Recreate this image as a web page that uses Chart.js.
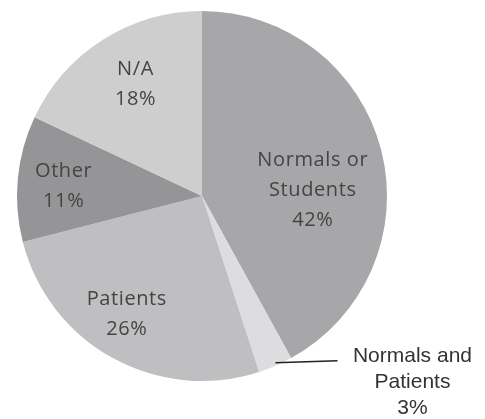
<!DOCTYPE html>
<html>
<head>
<meta charset="utf-8">
<script src="https://cdn.jsdelivr.net/npm/chart.js@4"></script>
<style>
  html, body { margin: 0; padding: 0; background: #fff; }
  #wrap { width: 485px; height: 419px; }
</style>
</head>
<body>
<div id="wrap"><canvas id="pie" width="485" height="419"></canvas></div>
<script>
// Study population breakdown
const categories = ['Normals or Students', 'Normals and Patients', 'Patients', 'Other', 'N/A'];
const labelLines = [['Normals or', 'Students'], ['Normals and', 'Patients'], ['Patients'], ['Other'], ['N/A']];
const shares = [42, 3, 26, 11, 18];
const sliceColors = ['#a7a7a9', '#dddddf', '#bfbfc1', '#959597', '#cececf'];

// per-slice label placement: radius factor and angle nudge (degrees)
const labelPlace = [
  { r: 0.6, da: 11 },
  { outside: true },
  { r: 0.75, da: 4 },
  { r: 0.75, da: -1 },
  { r: 0.71, da: 2 }
];

const sliceLabels = {
  id: 'sliceLabels',
  afterDatasetsDraw(chart) {
    const ctx = chart.ctx;
    const meta = chart.getDatasetMeta(0);
    const total = shares.reduce((a, b) => a + b, 0);
    meta.data.forEach((arc, i) => {
      const pct = Math.round(shares[i] / total * 100) + '%';
      const lines = labelLines[i].concat([pct]);
      const mid = (arc.startAngle + arc.endAngle) / 2;
      const place = labelPlace[i];
      ctx.save();
      ctx.textAlign = 'center';
      ctx.textBaseline = 'alphabetic';
      if (place.outside) {
        // leader line from the rim out to the side label
        const x0 = arc.x + Math.cos(mid) * arc.outerRadius;
        const y0 = arc.y + Math.sin(mid) * arc.outerRadius - 3;
        const x1 = x0 + 62, y1 = y0 - 2;
        ctx.strokeStyle = '#222';
        ctx.lineWidth = 1.5;
        ctx.beginPath();
        ctx.moveTo(x0, y0);
        ctx.lineTo(x1, y1);
        ctx.stroke();
        ctx.fillStyle = '#333';
        ctx.font = '21px "Liberation Sans", Arial, sans-serif';
        const cx = x1 + 75;
        lines.forEach((t, k) => ctx.fillText(t, cx, y1 + 1 + k * 26));
      } else {
        const a = mid + place.da * Math.PI / 180;
        const rr = arc.outerRadius * place.r;
        const cx = arc.x + Math.cos(a) * rr;
        const cy = arc.y + Math.sin(a) * rr;
        ctx.fillStyle = '#444';
        ctx.font = '20px "Open Sans", Lato, sans-serif';
        ctx.letterSpacing = '0.6px';
        const lh = 30;
        const top = cy - (lines.length - 1) * lh / 2 + 7;
        lines.forEach((t, k) => ctx.fillText(t, cx, top + k * lh));
      }
      ctx.restore();
    });
  }
};

new Chart(document.getElementById('pie'), {
  type: 'pie',
  data: {
    labels: categories,
    datasets: [{
      data: shares,
      backgroundColor: sliceColors,
      borderWidth: 0
    }]
  },
  options: {
    responsive: false,
    animation: false,
    layout: { padding: { left: 17, right: 98, top: 11, bottom: 38 } },
    plugins: {
      legend: { display: false },
      tooltip: { enabled: false }
    }
  },
  plugins: [sliceLabels]
});
</script>
</body>
</html>
